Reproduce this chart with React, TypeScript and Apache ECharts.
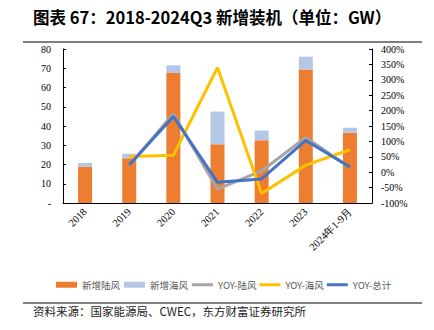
import React, { useEffect, useRef } from "react";
import * as echarts from "echarts";

const categories = ["2018", "2019", "2020", "2021", "2022", "2023", "2024年1-9月"];
const onshore = [18.9, 23.2, 67.6, 30.5, 32.6, 69.4, 36.5];
const offshore = [1.9, 2.4, 3.9, 17.0, 5.1, 6.6, 2.6];
const yoyOnshore = [null, 22, 190, -55, 4, 113, 15];
const yoyOffshore = [null, 51, 55, 340, -69, 23, 73];
const yoyTotal = [null, 23, 181, -33, -22, 103, 17];
const leftTicks = { min: 0, max: 80, interval: 10 };
const rightTicks = { min: -100, max: 400, interval: 50 };

const titleText = "图表 67：2018-2024Q3 新增装机（单位：GW）";
const sourceText = "资料来源：国家能源局、CWEC，东方财富证券研究所";

export default function App() {
  const ref = useRef<HTMLDivElement>(null);
  useEffect(() => {
    const chart = echarts.init(ref.current!, undefined, { renderer: "svg" });
    const serif = "'Liberation Serif', 'Times New Roman', serif";
    const cjk = "'Noto Sans CJK SC', sans-serif";
    const legendText = { fontFamily: cjk, fontSize: 9.5, color: "#595959" };
    chart.setOption({
      animation: false,
      backgroundColor: "#fff",
      grid: { left: 63, right: 62, top: 49, bottom: 127, containLabel: false },
      legend: [
        {
          top: 275,
          left: 51,
          itemWidth: 21,
          itemHeight: 6,
          itemGap: 4,
          textStyle: legendText,
          data: [
            { name: "新增陆风", icon: "rect" },
            { name: "新增海风", icon: "rect" },
          ],
        },
        {
          top: 275,
          left: 187,
          itemWidth: 21,
          itemHeight: 3,
          itemGap: 3,
          textStyle: legendText,
          data: [
            { name: "YOY-陆风", icon: "rect" },
            { name: "YOY-海风", icon: "rect" },
            { name: "YOY-总计", icon: "rect" },
          ],
        },
      ],
      xAxis: {
        type: "category",
        data: categories,
        boundaryGap: true,
        axisLine: { lineStyle: { color: "#000", width: 1 } },
        axisTick: { inside: true, length: 3, lineStyle: { color: "#000" } },
        axisLabel: {
          rotate: 45,
          fontFamily: serif,
          fontSize: 10.5,
          color: "#000",
          margin: 7,
          interval: 0,
        },
      },
      yAxis: [
        {
          type: "value",
          min: leftTicks.min,
          max: leftTicks.max,
          interval: leftTicks.interval,
          splitLine: { show: false },
          axisLine: { show: true, lineStyle: { color: "#000", width: 1 } },
          axisTick: { show: true, inside: true, length: 3, lineStyle: { color: "#000" } },
          axisLabel: {
            fontFamily: serif,
            fontSize: 10,
            color: "#000",
            margin: 12,
            formatter: (v: number) => (v === 0 ? "-" : String(v)),
          },
        },
        {
          type: "value",
          position: "right",
          min: rightTicks.min,
          max: rightTicks.max,
          interval: rightTicks.interval,
          splitLine: { show: false },
          axisLine: { show: true, lineStyle: { color: "#000", width: 1 } },
          axisTick: { show: true, inside: true, length: 3, lineStyle: { color: "#000" } },
          axisLabel: {
            fontFamily: serif,
            fontSize: 10,
            color: "#000",
            margin: 9,
            formatter: (v: number) => v + "%",
          },
        },
      ],
      series: [
        {
          name: "新增陆风",
          type: "bar",
          stack: "a",
          barWidth: 14,
          data: onshore,
          itemStyle: { color: "#ED7D31" },
        },
        {
          name: "新增海风",
          type: "bar",
          stack: "a",
          barWidth: 14,
          data: offshore,
          itemStyle: { color: "#B4C7E7" },
        },
        {
          name: "YOY-陆风",
          type: "line",
          yAxisIndex: 1,
          data: yoyOnshore,
          symbol: "none",
          lineStyle: { color: "#A5A5A5", width: 3 },
          itemStyle: { color: "#A5A5A5" },
        },
        {
          name: "YOY-海风",
          type: "line",
          yAxisIndex: 1,
          data: yoyOffshore,
          symbol: "none",
          lineStyle: { color: "#FFC000", width: 3 },
          itemStyle: { color: "#FFC000" },
        },
        {
          name: "YOY-总计",
          type: "line",
          yAxisIndex: 1,
          data: yoyTotal,
          symbol: "none",
          lineStyle: { color: "#4472C4", width: 3 },
          itemStyle: { color: "#4472C4" },
        },
      ],
      graphic: [
        {
          type: "text",
          left: 33,
          top: 9,
          style: {
            text: titleText,
            font: `bold 16.5px ${cjk}`,
            fill: "#000",
          },
        },
        {
          type: "line",
          shape: { x1: 23, y1: 42, x2: 422, y2: 42 },
          style: { stroke: "#000", lineWidth: 1 },
        },
        {
          type: "line",
          shape: { x1: 23, y1: 303, x2: 422, y2: 303 },
          style: { stroke: "#000", lineWidth: 1 },
        },
        {
          type: "text",
          left: 33,
          top: 305,
          style: {
            text: sourceText,
            font: `11.5px ${cjk}`,
            fill: "#222",
          },
        },
      ],
    });
    return () => chart.dispose();
  }, []);
  return <div ref={ref} style={{ width: 434, height: 330, position: "absolute", left: 0, top: 0 }} />;
}
